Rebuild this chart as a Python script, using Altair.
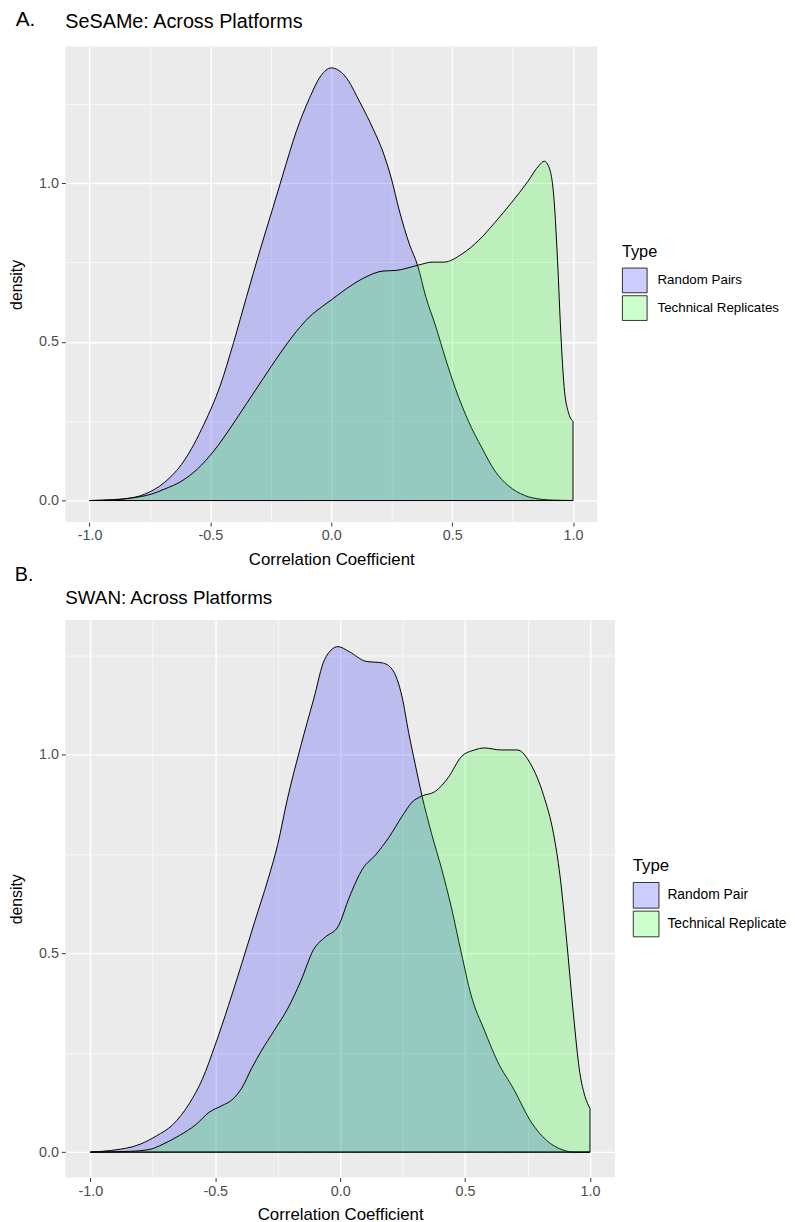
import altair as alt
import pandas as pd

FONT = "Liberation Sans"

# ---------------- Panel A (SeSAMe) ----------------
types_a = ["Random Pairs", "Technical Replicates"]
rand_a_x = [-1.0, -0.9, -0.854, -0.772, -0.69, -0.609, -0.527, -0.459, -0.404, -0.35,
            -0.295, -0.241, -0.2, -0.145, -0.091, -0.043, 0.0, 0.057, 0.119, 0.173,
            0.214, 0.248, 0.282, 0.323, 0.357, 0.391, 0.432, 0.473, 0.514, 0.568,
            0.623, 0.677, 0.732, 0.8, 0.868, 0.93, 1.0]
rand_a_d = [0.0, 0.002, 0.005, 0.02, 0.057, 0.125, 0.24, 0.363, 0.498, 0.643,
            0.788, 0.923, 1.027, 1.162, 1.266, 1.338, 1.363, 1.337, 1.254, 1.171,
            1.098, 1.016, 0.912, 0.808, 0.741, 0.642, 0.549, 0.446, 0.352, 0.249,
            0.166, 0.093, 0.047, 0.016, 0.004, 0.001, 0.0]
tech_a_x = [-1.0, -0.9, -0.827, -0.745, -0.69, -0.622, -0.554, -0.486, -0.418, -0.35,
            -0.282, -0.213, -0.145, -0.091, -0.036, 0.0, 0.064, 0.132, 0.214, 0.268,
            0.357, 0.418, 0.466, 0.541, 0.609, 0.677, 0.745, 0.813, 0.861, 0.881,
            0.902, 0.922, 0.936, 0.95, 0.963, 0.98, 1.0]
tech_a_d = [0.0, 0.003, 0.008, 0.02, 0.036, 0.06, 0.099, 0.156, 0.228, 0.306,
            0.384, 0.462, 0.532, 0.578, 0.612, 0.632, 0.668, 0.7, 0.723, 0.725,
            0.741, 0.751, 0.751, 0.777, 0.819, 0.876, 0.938, 1.005, 1.057, 1.069,
            1.047, 0.943, 0.756, 0.52, 0.36, 0.28, 0.25]

# ---------------- Panel B (SWAN) ----------------
types_b = ["Random Pair", "Technical Replicate"]
rand_b_x = [-1.0, -0.919, -0.8, -0.735, -0.67, -0.604, -0.552, -0.499, -0.447, -0.394,
            -0.342, -0.289, -0.25, -0.211, -0.158, -0.106, -0.062, -0.009, 0.037, 0.103,
            0.169, 0.208, 0.248, 0.274, 0.3, 0.327, 0.366, 0.406, 0.445, 0.485,
            0.524, 0.577, 0.63, 0.696, 0.762, 0.827, 0.893, 0.933, 1.0]
rand_b_d = [0.0, 0.004, 0.02, 0.041, 0.069, 0.122, 0.183, 0.272, 0.369, 0.474,
            0.58, 0.686, 0.774, 0.889, 1.021, 1.14, 1.24, 1.272, 1.259, 1.235,
            1.231, 1.215, 1.145, 1.056, 0.977, 0.898, 0.801, 0.713, 0.616, 0.501,
            0.395, 0.307, 0.228, 0.157, 0.078, 0.029, 0.005, 0.0, 0.0]
tech_b_x = [-1.0, -0.84, -0.761, -0.709, -0.643, -0.578, -0.525, -0.473, -0.434, -0.394,
            -0.355, -0.316, -0.263, -0.211, -0.158, -0.106, -0.06, -0.009, 0.037, 0.09,
            0.142, 0.195, 0.248, 0.287, 0.327, 0.379, 0.432, 0.485, 0.538, 0.577,
            0.643, 0.709, 0.762, 0.814, 0.854, 0.88, 0.906, 0.933, 0.959, 0.98, 1.0]
tech_b_d = [0.0, 0.002, 0.007, 0.02, 0.042, 0.069, 0.1, 0.117, 0.131, 0.161,
            0.21, 0.254, 0.307, 0.36, 0.43, 0.51, 0.541, 0.567, 0.642, 0.713,
            0.748, 0.792, 0.845, 0.88, 0.896, 0.907, 0.942, 0.995, 1.012, 1.017,
            1.012, 1.012, 0.977, 0.898, 0.801, 0.695, 0.536, 0.351, 0.201, 0.14, 0.11]

x_ticks = [-1.0, -0.75, -0.5, -0.25, 0.0, 0.25, 0.5, 0.75, 1.0]
y_ticks = [0.0, 0.25, 0.5, 0.75, 1.0, 1.25]
fill_range = ["rgba(0,0,255,0.2)", "rgba(0,255,0,0.2)"]

IS_MAJOR = "abs(datum.value * 2 - round(datum.value * 2)) < 0.000001"
LABEL_EXPR = ("(" + IS_MAJOR + ") ? ((datum.value < 0 ? '-' : '') + "
              "format(abs(datum.value), '.1f')) : ''")


def make_df(types, xs_list, ds_list):
    rows = []
    for t, xs, ds in zip(types, xs_list, ds_list):
        for xv, dv in zip(xs, ds):
            rows.append({"Type": t, "r": xv, "density": dv})
    return pd.DataFrame(rows)


def axis(values, title, title_pad, title_size):
    return alt.Axis(
        values=values, title=title, domain=False, grid=True,
        gridColor="white",
        gridWidth={"condition": {"test": IS_MAJOR, "value": 1.4}, "value": 0.7},
        ticks=True, tickColor="#333333", tickSize=4, tickWidth=1,
        tickOpacity={"condition": {"test": IS_MAJOR, "value": 1}, "value": 0},
        labelExpr=LABEL_EXPR, labelColor="#4D4D4D", labelFontSize=14.5,
        labelPadding=3, labelFont=FONT,
        titleFont=FONT, titleFontSize=title_size, titleFontWeight="normal",
        titleColor="black", titlePadding=title_pad,
    )


def panel(df, types, title, tsize, toff, w, h, ymax, ymin, lx, ly, sym,
          lab_size, ltitle_size, lab_off, row_pad, ytitle_pad):
    return alt.Chart(df).mark_area(
        stroke="black", strokeWidth=1, interpolate="monotone"
    ).encode(
        x=alt.X("r:Q", scale=alt.Scale(domain=[-1.1, 1.1], nice=False, zero=False),
                axis=axis(x_ticks, "Correlation Coefficient", 9, 17)),
        y=alt.Y("density:Q", stack=None,
                scale=alt.Scale(domain=[ymin, ymax], nice=False, zero=False),
                axis=axis(y_ticks, "density", ytitle_pad, 16)),
        y2=alt.datum(0),
        fill=alt.Fill("Type:N", scale=alt.Scale(domain=types, range=fill_range),
                      legend=alt.Legend(
                          title="Type", orient="none", legendX=lx, legendY=ly,
                          titleFont=FONT, titleFontSize=ltitle_size,
                          titleFontWeight="normal", titleColor="black",
                          titlePadding=7,
                          labelFont=FONT, labelFontSize=lab_size, labelColor="black",
                          labelOffset=lab_off, symbolType="square", symbolSize=sym,
                          symbolStrokeColor="black", symbolStrokeWidth=0.8,
                          rowPadding=row_pad)),
    ).properties(
        width=w, height=h,
        title=alt.Title(title, anchor="start", frame="group", fontSize=tsize,
                        font=FONT, fontWeight="normal", color="black", offset=toff),
    )


df_a = make_df(types_a, [rand_a_x, tech_a_x], [rand_a_d, tech_a_d])
df_b = make_df(types_b, [rand_b_x, tech_b_x], [rand_b_d, tech_b_d])

chart_a = panel(df_a, types_a, "SeSAMe: Across Platforms", 20, 14.5, 538, 481, 1.43, -0.068,
                563, 200, 625, 13.5, 16.5, 10, -5, 14)
chart_b = panel(df_b, types_b, "SWAN: Across Platforms", 19, 12, 556, 564, 1.339, -0.064,
                574, 241, 676, 14, 17, 8, -7, 14)

group_a = alt.vconcat(chart_a, title=alt.Title("A.", anchor="start", frame="bounds",
                                               fontSize=21, font=FONT, fontWeight="normal",
                                               color="black", offset=-18, dx=7))
group_b = alt.vconcat(chart_b, title=alt.Title("B.", anchor="start", frame="bounds",
                                               fontSize=20, font=FONT, fontWeight="normal",
                                               color="black", offset=4, dx=6))

chart = alt.concat(group_a, group_b, columns=1, align="none", spacing=-2).properties(
    padding={"left": 0, "top": -6, "right": 0, "bottom": 0}
).resolve_scale(fill="independent").resolve_legend(fill="independent").configure(
    font=FONT
).configure_view(fill="#EBEBEB", stroke=None)

chart.save("out.html", embed_options={"renderer": "svg", "actions": False})
